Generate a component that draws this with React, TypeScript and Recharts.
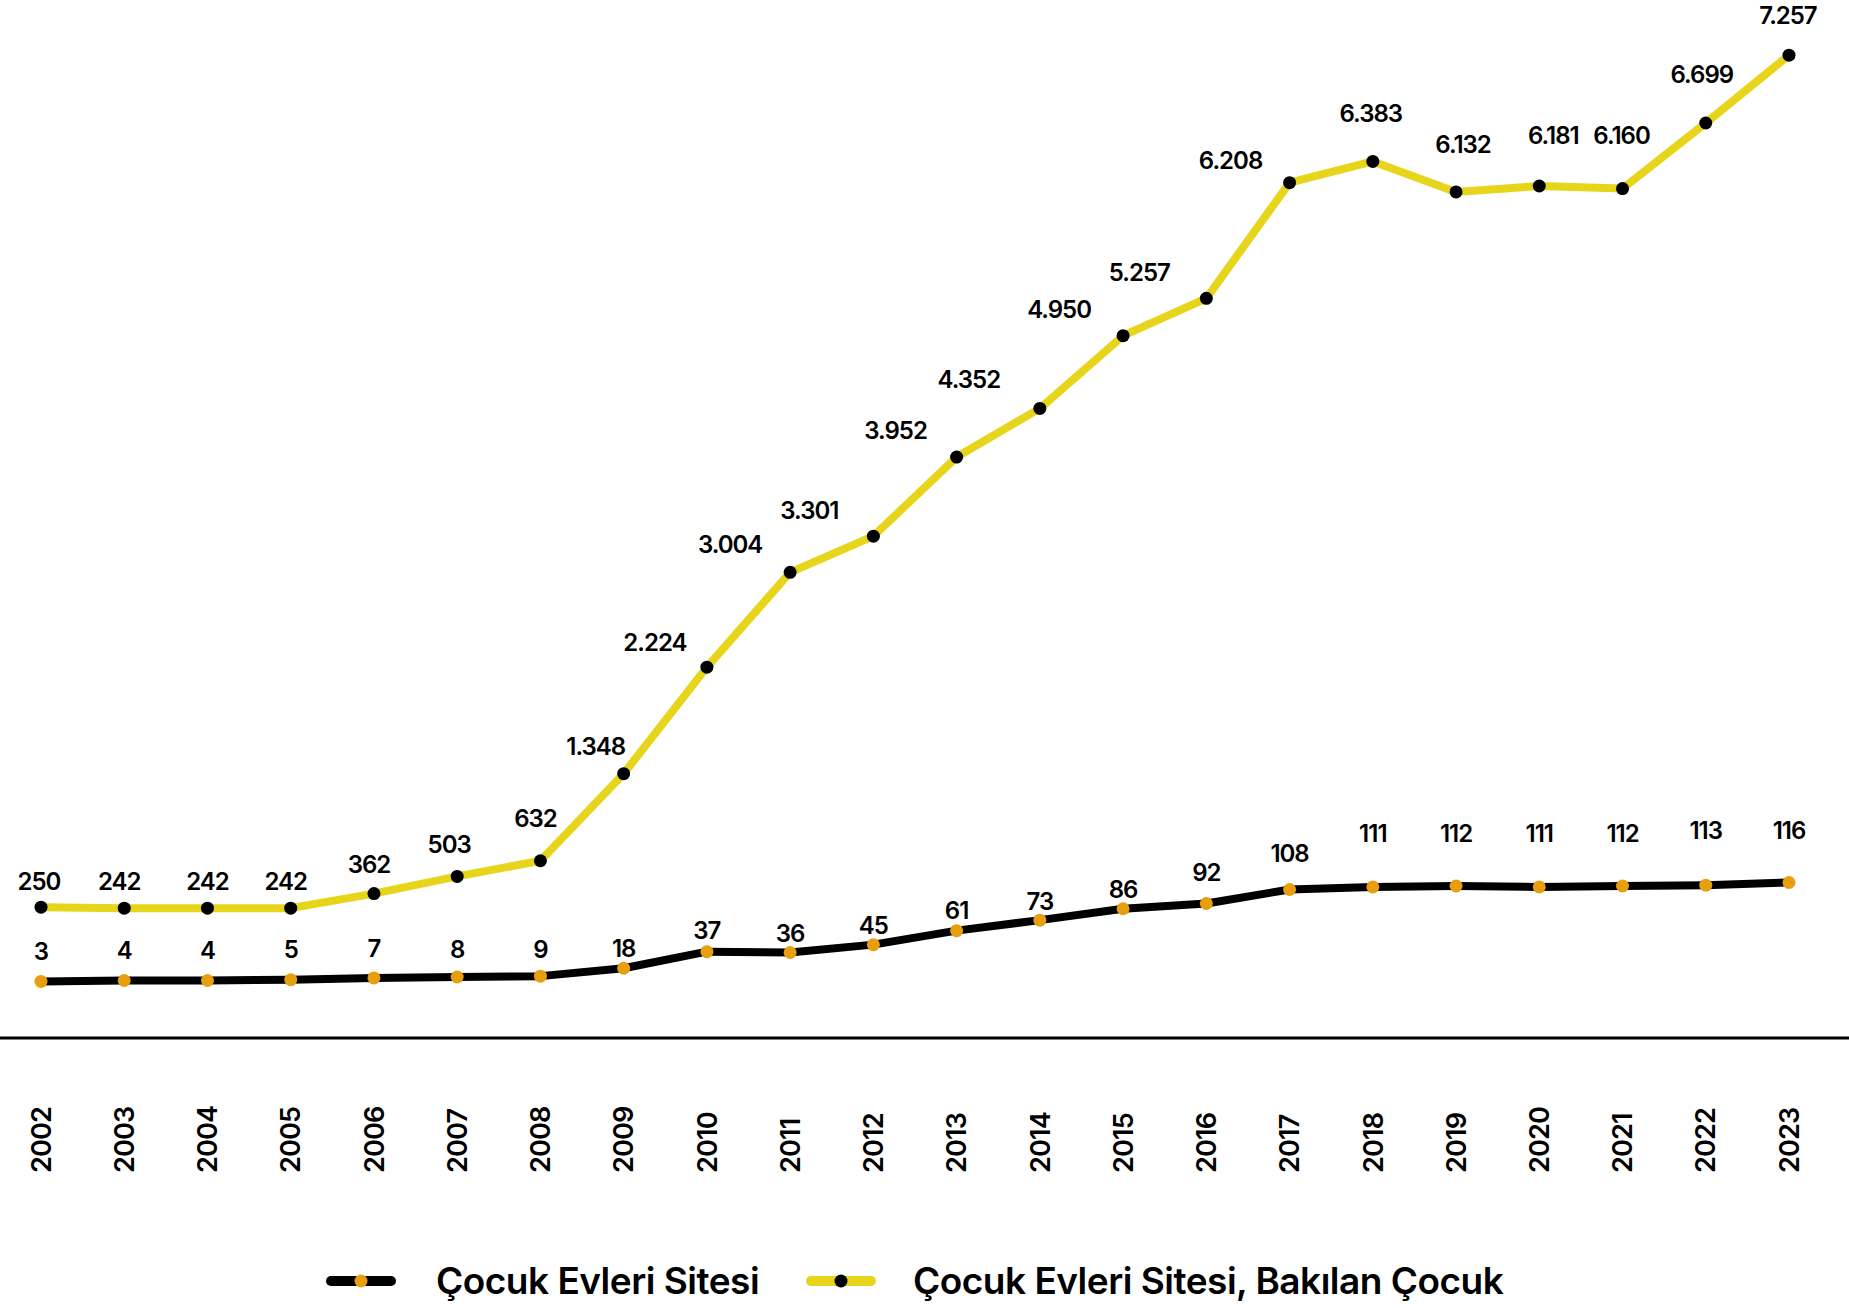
import { LineChart, Line, XAxis, YAxis, LabelList } from "recharts";

const years = ["2002", "2003", "2004", "2005", "2006", "2007", "2008", "2009", "2010", "2011", "2012", "2013", "2014", "2015", "2016", "2017", "2018", "2019", "2020", "2021", "2022", "2023"];
const children = [250, 242, 242, 242, 362, 503, 632, 1348, 2224, 3004, 3301, 3952, 4352, 4950, 5257, 6208, 6383, 6132, 6181, 6160, 6699, 7257];
const sites = [3, 4, 4, 5, 7, 8, 9, 18, 37, 36, 45, 61, 73, 86, 92, 108, 111, 112, 111, 112, 113, 116];

// label nudges (px, relative to each dot)
const kidLabelDx = [-2, -5, 0, -5, -5, -8, -5, -28, -52, -60, -64, -61, -71, -64, -67, -59, -2, 7, 14, -1, -4, -1];
const kidLabelDy = [-26, -27, -27, -27, -29, -32, -42, -27, -25, -28, -26, -27, -29, -26, -26, -22, -48, -47, -50, -53, -48, -40];
const siteLabelDy = [-30, -30, -30, -30, -29, -28, -27, -20, -21, -19, -19, -20, -19, -19, -31, -36, -53, -53, -53, -53, -55, -52];

const data = years.map((year, i) => ({ year, kids: children[i], sites: sites[i] }));

const FONT = "Inter, 'Noto Sans', sans-serif";
const YELLOW = "#E6D51B";
const ORANGE = "#E89F0E";

const fmt = (v: number) =>
  v >= 1000 ? `${Math.floor(v / 1000)}.${String(v % 1000).padStart(3, "0")}` : String(v);

const YearTick = ({ x, y, payload }: any) => (
  <text
    transform={`translate(${x},${y + 135}) rotate(-90)`}
    dy="0.36em"
    textAnchor="start"
    fontFamily={FONT}
    fontWeight={600}
    fontSize={27}
    letterSpacing={-0.8}
    fill="#000"
  >
    {payload.value}
  </text>
);

const KidLabel = ({ x, y, value, index }: any) => (
  <text
    x={x + kidLabelDx[index]}
    y={y + kidLabelDy[index]}
    dominantBaseline="central"
    textAnchor="middle"
    fontFamily={FONT}
    fontWeight={600}
    fontSize={24}
    letterSpacing={-1}
    fill="#000"
  >
    {fmt(value)}
  </text>
);

const SiteLabel = ({ x, y, value, index }: any) => (
  <text
    x={x}
    y={y + siteLabelDy[index]}
    dominantBaseline="central"
    textAnchor="middle"
    fontFamily={FONT}
    fontWeight={600}
    fontSize={24}
    letterSpacing={-1}
    fill="#000"
  >
    {value}
  </text>
);

function LegendIcon({ line, dot, left }: { line: string; dot: string; left: number }) {
  return (
    <svg width={70} height={14} style={{ position: "absolute", left, top: 1274 }}>
      <line x1={5} y1={7} x2={65} y2={7} stroke={line} strokeWidth={10} strokeLinecap="round" />
      <circle cx={35} cy={7} r={6.5} fill={dot} />
    </svg>
  );
}

const legendText: React.CSSProperties = {
  position: "absolute",
  top: 1258,
  fontFamily: FONT,
  fontWeight: 600,
  fontSize: 37,
  lineHeight: "46px",
  letterSpacing: -0.5,
  color: "#000",
  whiteSpace: "nowrap",
};

export default function App() {
  return (
    <div style={{ position: "relative", width: 1849, height: 1308, background: "#fff" }}>
      <style>{`body{margin:0}`}</style>
      <LineChart width={1849} height={1200} data={data} margin={{ top: 20, right: 0, bottom: 0, left: 0 }}>
        <XAxis
          dataKey="year"
          interval={0}
          height={162}
          padding={{ left: 41, right: 60 }}
          tickSize={0}
          tickMargin={0}
          tickLine={false}
          axisLine={{ stroke: "#000", strokeWidth: 3 }}
          tick={<YearTick />}
        />
        <YAxis yAxisId="kids" hide domain={[-825.7, 7546]} allowDataOverflow />
        <YAxis yAxisId="sites" hide domain={[-61.7, 1101.7]} allowDataOverflow />
        <Line
          yAxisId="kids"
          type="linear"
          dataKey="kids"
          stroke={YELLOW}
          strokeWidth={8}
          strokeLinejoin="round"
          dot={{ r: 6.5, fill: "#000", stroke: "none" }}
          activeDot={false}
          isAnimationActive={false}
        >
          <LabelList dataKey="kids" content={<KidLabel />} />
        </Line>
        <Line
          yAxisId="sites"
          type="linear"
          dataKey="sites"
          stroke="#000"
          strokeWidth={8}
          strokeLinejoin="round"
          dot={{ r: 6.5, fill: ORANGE, stroke: "none" }}
          activeDot={false}
          isAnimationActive={false}
        >
          <LabelList dataKey="sites" content={<SiteLabel />} />
        </Line>
      </LineChart>
      <LegendIcon line="#000" dot={ORANGE} left={326} />
      <span style={{ ...legendText, left: 436 }}>Çocuk Evleri Sitesi</span>
      <LegendIcon line={YELLOW} dot="#000" left={806} />
      <span style={{ ...legendText, left: 913 }}>Çocuk Evleri Sitesi, Bakılan Çocuk</span>
    </div>
  );
}
